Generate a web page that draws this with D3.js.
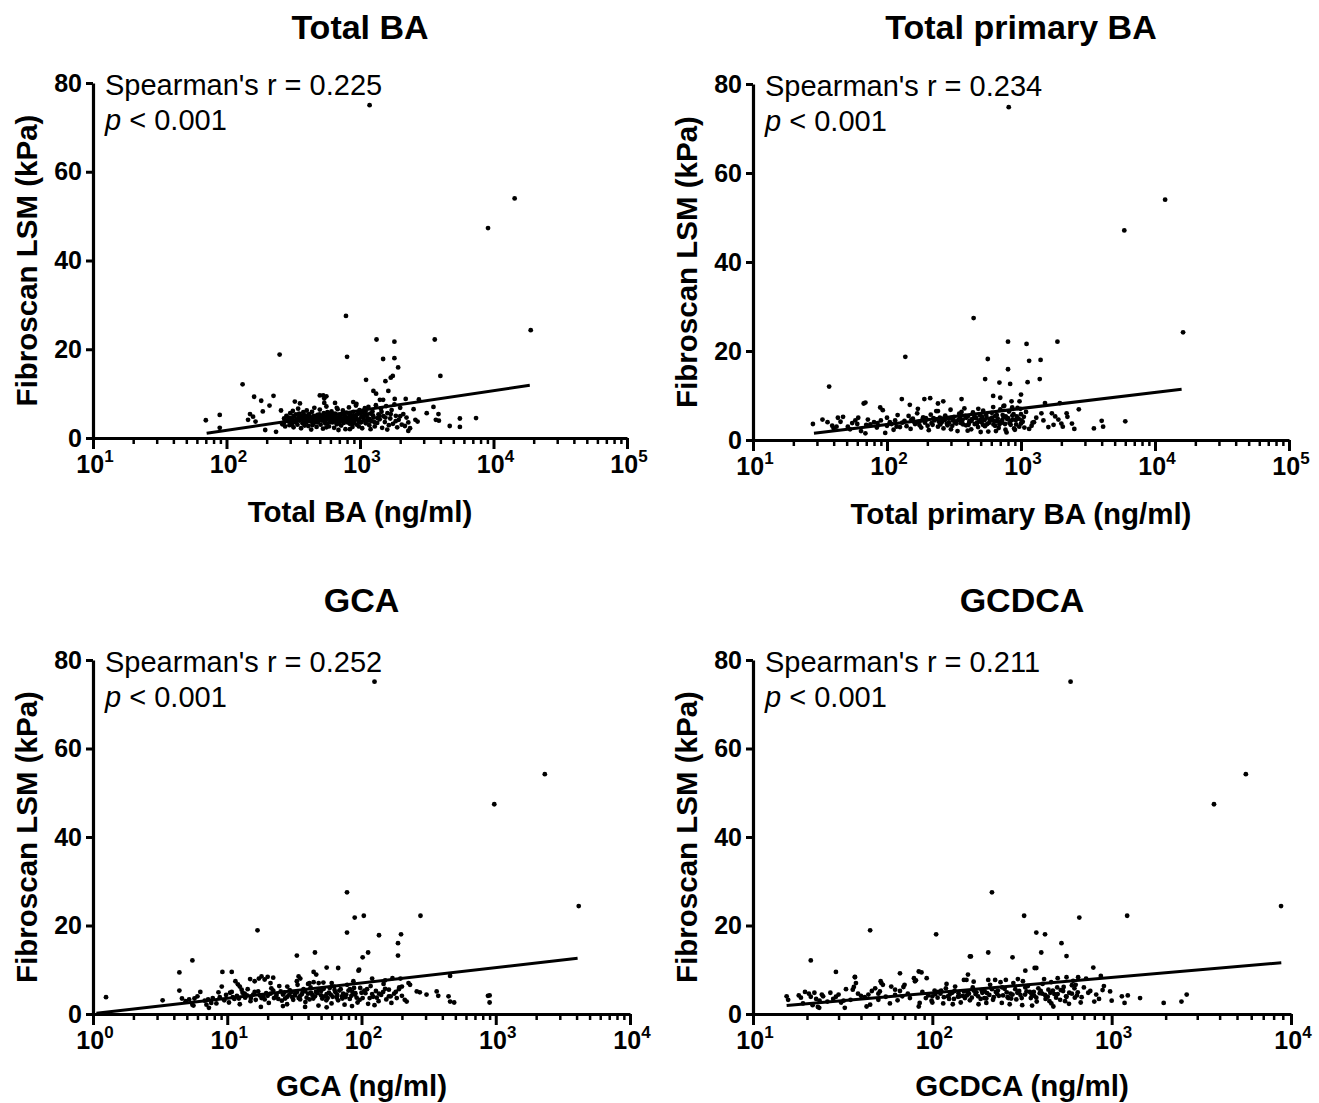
<!DOCTYPE html>
<html>
<head>
<meta charset="utf-8">
<script src="https://cdn.jsdelivr.net/npm/d3@7/dist/d3.min.js"></script>
<style>
  body { margin: 0; background: #fff; }
  svg { display: block; }
  text { font-family: "Liberation Sans", Arial, Helvetica, sans-serif; fill: #000; }
</style>
</head>
<body>
<svg id="fig" width="1319" height="1103"></svg>
<script>
// ---- Text content ----
const titles = ["Total BA", "Total primary BA", "GCA", "GCDCA"];
const xLabels = ["Total BA (ng/ml)", "Total primary BA (ng/ml)", "GCA (ng/ml)", "GCDCA (ng/ml)"];
const yLabel = "Fibroscan LSM (kPa)";
const spearmanR = ["0.225", "0.234", "0.252", "0.211"];
const pValue = "< 0.001";
const xExponents = [[1, 2, 3, 4, 5], [1, 2, 3, 4, 5], [0, 1, 2, 3, 4], [1, 2, 3, 4]];
const yTicks = [0, 20, 40, 60, 80];

// ---- Scatter data: [concentration (ng/ml), LSM (kPa)] ----
const totalBA = [
  [1180,75],[14400,54],[9100,47.3],[19000,24.3],[785,27.5],[250,18.8],[800,18.3],[1330,22.2],[1810,21.7],[3630,22.2],
  [1490,17.8],[1810,18],[1930,15.9],[1760,14],[1700,13.6],[1550,12.8],[1110,13.1],[4000,14],[132,12.1],[1260,10.6],
  [1320,10],[1630,10.6],[161,9.3],[225,9.5],[182,8.4],[530,9.6],[560,9.4],[500,9.6],[540,8.9],
  [70,4.0],[89,5.2],[89,2.3],[210,7.3],[187,6],[256,6.2],[150,5.4],[158,4.8],[145,4.1],[165,3.7],[195,1.8],[235,1.4],
  [325,8.2],[355,7.8],[540,7.9],
  [2520,6.5],[3550,7.0],[3160,5.6],[3870,5.4],[2600,4.1],[2700,3.7],[3700,4.1],[3900,3.9],[4700,2.7],[5600,4.4],
  [5600,2.5],[7400,4.5],[2300,1.6],[1410,8.6],[1490,8.6],[1820,8.8],[2200,8.8],[2760,8.7],[650,7.9],[670,6.8],[890,8.1],[940,7.7],
  [262,3.1],[270,4.4],[275,2.6],[281,5.0],[288,3.8],[292,4.6],[296,2.9],[300,5.6],[305,3.4],[310,4.1],[314,6.1],[318,2.4],
  [322,4.8],[327,3.6],[331,5.3],[336,4.2],[340,3.0],[344,6.6],[349,4.7],[353,3.9],[358,5.1],[362,2.2],[367,4.4],[371,3.3],
  [376,5.8],[380,4.0],[385,2.8],[390,4.9],[395,3.5],[399,6.2],
  [404,4.3],[410,2.7],[415,5.4],[420,3.8],[426,4.6],[431,1.9],[437,5.9],[443,3.2],[449,4.1],[455,6.8],[461,3.6],[467,4.8],
  [473,2.5],[480,5.2],[486,3.9],[493,4.4],[500,6.4],[507,3.0],[514,5.0],[521,4.2],[528,2.1],[536,5.6],[544,3.7],[552,4.6],
  [560,7.1],[568,3.3],[577,4.9],[585,2.6],[594,5.3],[603,4.0],[612,6.0],[621,3.5],[630,4.7],[640,2.3],[650,5.5],[660,4.1],
  [670,3.1],[680,6.5],[690,4.5],[700,3.7],
  [711,5.1],[722,2.8],[733,4.3],[744,6.2],[755,3.4],[766,4.9],[778,2.0],[790,5.7],[802,3.9],[814,4.6],[826,6.9],[839,3.2],
  [852,5.2],[865,4.3],[878,2.5],[892,5.9],[905,3.7],[919,4.8],[933,7.3],[948,3.0],[962,5.4],[977,4.1],[992,6.3],[1007,3.5],
  [1022,4.7],[1038,2.2],[1054,5.8],[1070,4.0],[1087,6.7],[1104,3.3],[1121,5.0],[1138,4.4],[1156,7.0],[1174,2.9],[1192,5.5],
  [1215,3.8],[1240,6.0],[1265,4.6],[1290,2.6],[1315,7.4],[1345,3.4],[1375,5.3],[1405,4.2],[1435,6.6],[1465,2.3],[1500,4.9],
  [1535,3.6],[1570,7.2],[1605,5.6],[1645,2.9],[1685,4.4],[1725,6.3],[1765,3.2],[1810,7.6],[1855,5.0],[1900,2.4],[1950,4.1],
  [2000,6.8],[2055,3.0],[2110,5.4],[2170,2.7],[2230,4.6],[2300,3.5],[2370,2.2],
  [380,5.2],[420,4.9],[450,3.4],[470,4.0],[510,4.6],[530,3.9],[570,5.8],[600,4.4],[620,5.1],[660,3.6],[700,5.0],[730,3.8],
  [760,5.6],[790,4.2],[830,3.6],[860,4.9],[900,4.5],[940,5.2],[980,3.8],[1010,5.5],[1050,4.6],[1100,6.0],[1150,3.9],[1250,5.1],
  [1350,4.5],[1450,5.9],[1550,4.6],[1700,5.4],[1850,3.8],[2000,4.9],[440,2.9],[560,2.4],[690,1.8],[840,2.0],[980,2.6],
  [1200,2.0],[1600,1.9],[310,3.0],[350,5.5],[290,4.2],[270,3.5],
  [302,4.5],[318,5.0],[333,3.8],[347,4.1],[364,4.9],[378,3.6],[392,4.5],[407,5.1],[423,4.2],[438,3.7],[452,5.0],[466,4.4],
  [482,3.5],[498,5.3],[515,4.0],[533,4.8],[548,3.3],[566,4.3],[582,5.6],[598,3.6],[616,4.6],[634,3.9],[652,5.2],[671,4.4],
  [692,3.3],[714,4.6],[736,5.4],[758,4.0],[782,4.7],[806,3.5],[833,5.3],[858,4.0],[885,3.2],[912,5.0],[945,4.3],[985,5.7],
  [1025,3.6],[1065,4.9],[1120,5.3],[1180,4.3],[1280,3.6],[1400,5.0]
];

const totalPrimaryBA = [
  [810,74.8],[11900,54],[5900,47.1],[16200,24.2],[443,27.4],[137,18.7],[800,22.1],[1100,21.6],[1870,22.1],[565,18.2],
  [1150,17.8],[1400,18],[800,15.9],[540,13.7],[690,12.9],[830,12.6],[1120,13],[1380,13.7],[620,9.9],[700,9.5],[1000,10.2],
  [37,12],[129,9.2],[190,9.2],[69,8.4],[360,9.2],
  [28,3.6],[36,4.0],[43,5.0],[47,5.2],[45,4.1],[42,3.0],[39,3.2],[40,2.6],[51,3.0],[53,2.4],[58,4.4],[61,5.0],[67,8.2],
  [69,1.5],[70,3.4],[75,3.5],[89,7.3],[93,6.7],[90,4.4],[100,5.0],[97,1.6],[100,3.2],[108,3.6],[115,4.4],[148,7.9],[170,7.0],
  [210,9.4],[240,8.2],[263,8.7],[33,4.6],[55,3.8],[64,2.0],[80,4.0],[84,2.8],[112,2.3],[120,5.6],[125,2.9],[130,3.9],
  [850,8.7],[975,8.7],[740,7.6],[1510,8.3],[1950,8.3],[2700,6.9],[2190,6.0],[2220,5.2],[2400,3.7],[3500,2.6],[4100,3.0],
  [4000,4.3],[6000,4.2],[2000,3.7],[1900,4.6],[2050,3.0],[1800,5.3],[1700,6.0],[1420,6.0],[1470,4.4],[1200,3.2],[1250,4.0],
  [1300,5.0],[1150,2.5],[1220,3.9],[1600,2.9],[1750,3.4],[2500,2.5],
  [135,4.3],[140,3.1],[145,5.4],[150,2.5],[156,4.8],[162,3.6],[168,6.0],[174,4.1],[180,2.8],[186,5.1],[192,3.9],[198,4.6],
  [205,2.2],[212,5.7],[219,3.4],[226,4.4],[233,6.5],[240,3.0],[248,5.0],[256,4.0],[264,2.6],[272,5.5],[280,3.7],[289,4.8],
  [298,6.8],[307,3.2],[316,5.2],[326,4.2],[336,2.0],[346,5.9],[356,3.8],[367,4.6],[378,7.1],[389,3.3],[401,5.3],[413,4.3],
  [425,2.4],[438,6.2],[451,3.6],[464,4.9],[478,2.9],[492,5.6],[507,4.0],[522,6.6],[538,3.1],[554,5.0],[570,1.9],[587,4.4],
  [605,6.1],[623,3.5],[642,5.4],[661,4.2],[681,2.7],[701,6.9],[722,3.9],[744,5.1],[766,2.3],[789,4.7],[813,6.4],[837,3.4],
  [862,5.5],[888,2.6],[915,4.5],[942,7.2],[970,3.0],[1000,5.8],[1030,4.1],[1060,2.8],[1090,6.3],
  [160,4.0],[175,3.3],[195,4.9],[215,3.8],[230,4.7],[250,3.5],[270,4.5],[290,3.9],[310,4.4],[330,3.7],[350,4.9],[370,3.5],
  [390,5.0],[410,3.9],[430,4.7],[450,5.6],[470,3.9],[500,4.6],[520,3.4],[550,5.6],[580,3.9],[610,5.0],[640,3.2],[670,4.8],
  [700,4.0],[730,5.6],[760,3.6],[800,4.9],[840,4.3],[880,5.8],[920,3.5],[960,4.8],[1000,3.7],[1050,5.2],[300,2.4],[400,2.1],
  [500,1.8],[650,2.0],[780,1.7],[900,2.3],[240,6.5],[360,6.3],[480,7.0],[620,7.4],[750,7.7],[860,7.3],[990,7.0],
  [152,4.6],[166,3.9],[182,4.4],[201,3.2],[222,4.9],[244,4.1],[262,4.7],[283,3.3],[303,5.0],[322,3.9],[341,4.5],[362,4.1],
  [384,5.4],[406,3.4],[428,4.3],[447,5.0],[468,3.6],[488,4.2],[512,5.2],[535,4.5],[560,3.6],[592,4.8],[628,4.3],[660,5.6],
  [690,3.5],[725,4.5],[770,5.3],[820,3.8],[870,4.6],[930,5.3],[1010,4.4],[60,3.6],[72,4.6],[85,3.8],[105,4.0],[118,3.0]
];

const gca = [
  [125,75.1],[2320,54.2],[975,47.4],[4150,24.4],[78,27.5],[16.8,18.9],[78,18.4],[89,21.8],[104,22.2],[275,22.2],
  [135,17.8],[197,18.0],[187,16.0],[187,13.2],[112,13.9],[102,12.8],[45,13.9],[33,13.2],[5.5,12.1],[4.4,9.4],[9.2,9.5],
  [10.8,9.5],[55,10.5],[67,10.4],[96,10.0],[1.25,3.8],[3.3,3.1],[900,2.6],[900,4.2],[490,2.6],
  [4.4,5.3],[4.6,3.5],[4.9,2.9],[5.2,3.3],[5.5,2.1],[5.7,3.5],[6.0,4.0],[6.3,5.0],[5.6,1.9],[7.0,2.1],[7.3,1.4],[7.6,2.5],
  [9.1,6.2],[8.6,4.9],[11.5,7.4],[12,6.7],[12.4,6.2],[12.8,5.5],[14.8,7.9],[16,7.4],[17.2,8.0],[18,8.5],[19,7.8],[20,8.4],
  [22,8.2],[21,7.0],[33,7.4],[34,8.5],[35,8.0],[41,7.0],[44,7.2],[48,7.0],[52,7.1],[44,9.5],[46,8.9],[95,9.8],[87,7.4],
  [120,8.0],[150,7.6],[170,8.1],[195,8.0],[224,7.0],[230,6.6],[457,8.6],[258,5.1],[272,4.9],[305,4.4],[363,5.1],[373,4.1],
  [445,4.0],[457,2.8],[875,4.1],[217,2.8],[165,4.0],[180,5.0],[190,5.6],[200,6.2],[6.8,3.0],[7.8,3.6],[8.3,2.4],[9.5,3.1],
  [9.8,4.3],[10.3,2.6],[10.8,5.0],[11.3,3.4],[11.8,4.1],[12.4,2.2],[13,4.8],[13.6,3.7],[14.2,5.6],[14.9,2.9],[15.6,4.4],
  [16.3,3.2],[17,5.1],[17.8,1.6],[18.6,3.9],[19.5,4.7],[20.4,2.5],[21.3,5.8],[22.3,3.6],[23.3,4.3],[24.4,6.3],[25.5,3.0],
  [26.7,4.9],[27.9,2.2],[29.2,5.4],[30.5,3.8],[31.9,4.5],[33.4,6.6],[34.9,3.3],[36.5,5.2],[38.2,2.7],[40,4.6],[41.8,6.0],
  [43.7,3.5],[45.7,5.0],[47.8,1.9],[50,4.2],[52.3,5.7],[54.7,3.1],[57.2,4.8],[59.8,2.4],[62.5,6.2],[65.4,3.7],[68.4,5.3],
  [71.5,4.0],[74.8,2.1],[78.2,6.6],[81.8,3.4],[85.5,5.0],[89.4,4.4],[93.5,2.6],[97.8,5.9],[102,3.6],[107,4.7],[112,2.3],
  [117,6.3],[122,3.9],[128,5.2],[134,2.9],[140,4.3],[146,6.8],[153,3.3],[160,5.5],[167,2.5],[175,4.6],[183,3.6],[191,6.0],
  [200,4.1],[210,3.2],
  [11,3.8],[13.5,4.6],[15,3.6],[17.5,4.2],[19,3.3],[21,4.6],[23,3.9],[25,5.1],[27,3.5],[29,4.4],[31,3.2],[33,4.9],[35,4.1],
  [37,5.6],[39,3.7],[42,4.8],[45,4.0],[48,5.5],[51,3.5],[55,4.5],[58,5.9],[61,3.9],[64,4.9],[67,3.1],[70,5.6],[73,4.6],
  [76,3.8],[80,5.3],[84,4.1],[88,5.9],[92,3.7],[100,4.8],[110,5.6],[120,4.5],[130,3.7],[145,5.0],[160,4.0],[28,6.2],[40,6.8],
  [60,7.0],[26,1.8],[38,1.6],[55,1.5],[85,1.8],[125,2.0],
  [10.5,4.8],[12.2,3.5],[14,4.2],[16,5.0],[18,3.6],[20,4.1],[22,5.3],[24,3.4],[26,4.4],[28,3.9],[30,5.0],[32,4.2],[34,3.6],
  [36,4.5],[38,5.1],[41,3.3],[43,4.3],[47,4.7],[50,5.2],[53,4.0],[56,3.6],[59,4.4],[63,5.4],[66,4.3],[72,3.5],[77,4.4],
  [82,5.6],[90,4.7],[97,3.2],[105,5.3],[115,3.6],[135,4.6],[150,5.7],[7.2,3.3],[8.8,3.8]
];

const gcdca = [
  [590,75.1],[5600,54.2],[3720,47.4],[8800,24.4],[215,27.5],[45,18.9],[105,18.0],[325,22.2],[660,21.8],[1220,22.2],
  [380,18.4],[425,18.0],[525,16.0],[205,13.9],[405,13.9],[164,13.0],[280,12.8],[560,13.1],[21,12.1],[380,10.4],[790,10.5],
  [29,9.5],[37,8.3],[66,9.2],[87,9.4],[330,9.8],[372,10.4],
  [15.4,4.0],[15.7,3.2],[18,4.2],[18.5,3.7],[19.5,5.0],[20.5,4.6],[21,3.9],[22,4.8],[22.5,3.4],[23.5,3.0],[24.2,4.4],[24.6,4.0],
  [19,2.4],[21.5,2.0],[23,1.6],[23.4,1.4],[28,3.4],[29,3.9],[30,4.4],[31,2.6],[32,3.0],[32.5,1.4],[37,8.4],[37.5,7.0],
  [36.5,6.1],[36,5.5],[33,5.6],[38.5,4.6],[40,4.1],[42,3.8],[44,4.4],[46,5.2],[48,5.8],[50,4.6],[51,5.1],[52,7.0],[53,6.6],
  [51.5,7.4],[45,2.1],[43,1.7],[59,6.2],[62,5.5],[66,5.2],[69,6.1],[70,6.6],[68,4.0],[73,4.6],[80,7.4],[79,8.1],[81,7.6],
  [84,9.6],[93,8.1],[85,2.5],[84,1.7],[158,8.9],[162,13.0],[150,7.7],[155,7.7],[205,7.7],[224,7.7],[257,7.7],[300,7.9],
  [420,7.9],[500,8.1],[560,8.3],[650,8.3],[720,8.0],[870,8.6],[890,5.4],[980,5.1],[1140,4.0],[1180,2.5],[1440,3.6],
  [1950,2.5],[2450,2.8],[2620,4.4],[630,6.6],[700,6.0],[760,5.2],[820,4.4],[850,3.4],[800,2.8],[680,3.8],[473,1.7],
  [740,4.8],[905,6.3],[1000,3.0],[1230,4.2],[26,2.8],[27,4.8],[35,3.2],[55,3.9],[58,2.4],[64,3.1],
  [95,4.2],[99,3.0],[103,5.3],[107,3.7],[111,4.6],[115,2.4],[119,5.8],[124,3.4],[129,4.8],[134,6.2],[139,3.9],[144,2.6],
  [150,5.1],[156,4.2],[162,3.1],[168,6.0],[174,4.5],[181,2.2],[188,5.4],[195,3.6],[202,4.7],[210,6.6],[218,3.2],[226,5.0],
  [235,4.1],[244,2.5],[253,5.7],[263,3.8],[273,4.6],[283,7.0],[294,3.3],[305,5.2],[317,2.0],[329,4.4],[341,6.3],[354,3.6],
  [368,5.0],[382,2.8],[397,4.7],[412,6.8],[428,3.4],[444,5.5],[461,2.4],[479,4.5],[497,6.0],[516,3.2],[536,5.2],[557,4.0],
  [578,2.3],[600,6.5],[623,3.7],[647,4.9],[672,2.6],
  [100,4.0],[108,5.0],[116,3.8],[125,4.4],[133,5.2],[142,4.0],[152,3.6],[160,4.6],[170,5.3],[180,4.0],[190,4.8],[200,3.5],
  [215,5.6],[230,4.5],[245,6.0],[260,4.9],[275,3.5],[290,5.6],[310,4.3],[330,6.0],[350,5.0],[370,4.1],[390,5.8],[410,4.6],
  [440,3.9],[470,5.3],[500,4.5],[540,6.1],[580,4.8],[620,5.8],[100,2.6],[130,2.2],[200,2.5],[270,2.2],[360,1.9],[450,2.9],
  [550,2.9],[120,6.8],[170,7.3],[240,7.2],[320,7.4],[460,7.2],[610,7.5],
  [92,3.6],[104,4.5],[112,5.3],[122,4.0],[132,3.4],[140,4.7],[148,4.1],[158,5.0],[166,3.7],[176,4.9],[186,3.4],[196,5.1],
  [208,4.3],[220,3.8],[232,5.3],[248,4.2],[265,3.6],[280,4.4],[298,4.8],[315,3.6],[335,5.1],[358,4.4],[380,3.7],[402,5.2],
  [425,4.3],[455,4.8],[490,3.7],[520,5.4],[560,3.9],[600,4.6],[640,4.2],[62,4.3],[75,3.6],[88,5.0],[50,3.2]
];

// ---- Regression lines (endpoints: [concentration, LSM]) ----
const fitTotalBA = [[71, 1.05], [18700, 11.9]];
const fitTotalPrimaryBA = [[28.5, 1.5], [15800, 11.4]];
const fitGCA = [[1.06, 0.15], [4070, 12.6]];
const fitGCDCA = [[15.4, 1.9], [8830, 11.6]];

const seriesData = [totalBA, totalPrimaryBA, gca, gcdca];
const fitLines = [fitTotalBA, fitTotalPrimaryBA, fitGCA, fitGCDCA];

// ---- Layout of the four panels ----
const layout = [
  { left: 93,  right: 627,  top: 83,  bottom: 438,  titleY: 39,  xLabelY: 522 },
  { left: 753, right: 1289, top: 84,  bottom: 440,  titleY: 39,  xLabelY: 524 },
  { left: 93,  right: 630,  top: 660, bottom: 1014, titleY: 612, xLabelY: 1096 },
  { left: 753, right: 1291, top: 660, bottom: 1014, titleY: 612, xLabelY: 1096 }
];

const svg = d3.select("#fig");

layout.forEach((L, i) => {
  const exps = xExponents[i];
  const x = d3.scaleLog()
    .domain([Math.pow(10, exps[0]), Math.pow(10, exps[exps.length - 1])])
    .range([L.left, L.right]);
  const y = d3.scaleLinear().domain([0, 80]).range([L.bottom, L.top]);

  const g = svg.append("g");

  // Title
  g.append("text")
    .attr("x", (L.left + L.right) / 2).attr("y", L.titleY)
    .attr("text-anchor", "middle")
    .style("font-size", "34px").style("font-weight", "bold")
    .text(titles[i]);

  // Minor log ticks
  const minor = [];
  for (let e = exps[0]; e < exps[exps.length - 1]; e++) {
    for (let m = 2; m <= 9; m++) minor.push(m * Math.pow(10, e));
  }
  g.append("g")
    .attr("transform", `translate(0,${L.bottom})`)
    .call(d3.axisBottom(x).tickValues(minor).tickSize(6).tickFormat(""))
    .call(a => a.select(".domain").remove())
    .call(a => a.selectAll("line").attr("stroke", "#000").attr("stroke-width", 2.5));

  // Major x ticks + axis line
  const majors = exps.map(e => Math.pow(10, e));
  const xAxis = g.append("g")
    .attr("transform", `translate(0,${L.bottom})`)
    .call(d3.axisBottom(x).tickValues(majors).tickSize(11).tickSizeOuter(0).tickFormat(""));
  xAxis.select(".domain").attr("stroke", "#000").attr("stroke-width", 3.2);
  xAxis.selectAll(".tick line").attr("stroke", "#000").attr("stroke-width", 3);

  // Power-of-ten tick labels
  exps.forEach(e => {
    const t = g.append("text")
      .attr("x", x(Math.pow(10, e)) + 2).attr("y", L.bottom + 35)
      .attr("text-anchor", "middle")
      .style("font-size", "25px").style("font-weight", "bold");
    t.append("tspan").text("10");
    t.append("tspan").attr("dy", -11).style("font-size", "17px").text(String(e));
  });

  // Y axis
  const yAxis = g.append("g")
    .attr("transform", `translate(${L.left},0)`)
    .call(d3.axisLeft(y).tickValues(yTicks).tickSize(7).tickSizeOuter(0).tickPadding(4));
  yAxis.select(".domain").attr("stroke", "#000").attr("stroke-width", 3.2);
  yAxis.selectAll(".tick line").attr("stroke", "#000").attr("stroke-width", 3);
  yAxis.selectAll(".tick text")
    .style("font-family", "'Liberation Sans', Arial, sans-serif")
    .style("font-size", "25px").style("font-weight", "bold").attr("fill", "#000");

  // Axis titles
  g.append("text")
    .attr("x", (L.left + L.right) / 2).attr("y", L.xLabelY)
    .attr("text-anchor", "middle")
    .style("font-size", "29.5px").style("font-weight", "bold")
    .text(xLabels[i]);
  g.append("text")
    .attr("transform", `translate(${L.left - 56},${(L.top + L.bottom) / 2}) rotate(-90)`)
    .attr("text-anchor", "middle")
    .style("font-size", "29.5px").style("font-weight", "bold")
    .text(yLabel);

  // Correlation annotation
  g.append("text")
    .attr("x", L.left + 12).attr("y", L.top + 12)
    .style("font-size", "29px")
    .text(`Spearman's r = ${spearmanR[i]}`);
  const pt = g.append("text")
    .attr("x", L.left + 12).attr("y", L.top + 47)
    .style("font-size", "29px");
  pt.append("tspan").style("font-style", "italic").text("p");
  pt.append("tspan").text(" " + pValue);

  // Points
  g.append("g").selectAll("circle")
    .data(seriesData[i])
    .join("circle")
    .attr("cx", d => x(d[0]))
    .attr("cy", d => y(d[1]))
    .attr("r", 2.4)
    .attr("fill", "#000");

  // Regression line
  g.append("path")
    .datum(fitLines[i])
    .attr("fill", "none").attr("stroke", "#000").attr("stroke-width", 3)
    .attr("d", d3.line().x(d => x(d[0])).y(d => y(d[1])));
});
</script>
</body>
</html>
